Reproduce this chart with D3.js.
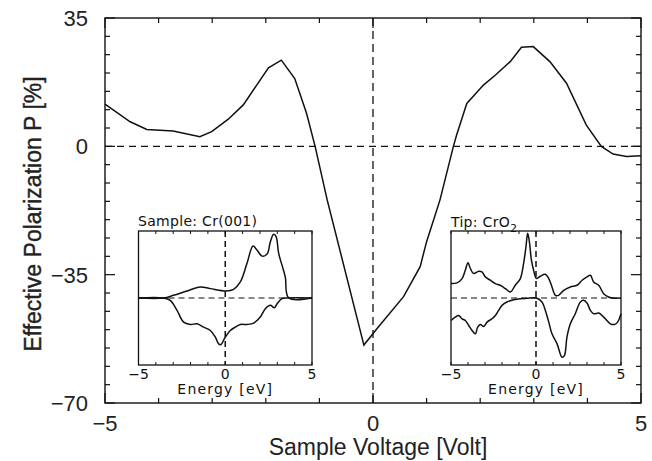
<!DOCTYPE html>
<html>
<head>
<meta charset="utf-8">
<script src="https://cdn.jsdelivr.net/npm/d3@7"></script>
<style>
  body { margin: 0; background: #fff; }
  svg { display: block; }
  .tick-label { font-family: "Liberation Sans", Arial, sans-serif; font-size: 22px; fill: #222; }
  .axis-title { font-family: "Liberation Sans", Arial, sans-serif; fill: #222; }
  .inset-text { font-family: "DejaVu Sans", sans-serif; font-size: 14px; fill: #111; }
</style>
</head>
<body>
<div id="chart"></div>
<script>
// main curve: sample voltage [V] vs effective polarization [%]
const mainV = [-5, -4.53, -4.22, -3.73, -3.23, -3.01, -2.7, -2.42, -2.17, -1.95, -1.71, -1.46, -1.24, -1.08, -0.855, -0.17,
               0.08, 0.57, 0.88, 1.0, 1.25, 1.5, 1.56, 1.75, 2.06, 2.28, 2.56, 2.77, 2.99, 3.3, 3.61, 3.98, 4.26, 4.48, 4.73, 5];
const mainP = [11.5, 6.7, 4.6, 4.2, 2.6, 4.0, 7.4, 11.3, 16.7, 21.4, 23.5, 18.5, 9, 0, -14.6, -54.2,
               -49.6, -41, -32.8, -26, -14.6, 0, 3.1, 11.7, 16.7, 19.4, 23.1, 27, 27.2, 23.1, 17.2, 5.8, 0, -2.1, -2.8, -2.6];

const yTickLabels = [35, 0, -35, -70];
const xTickLabels = [-5, 0, 5];

// inset 1: Sample Cr(001), spin up / spin down DOS (arb. units)
const crUpE = [-5, -3.56, -2.98, -2.21, -1.44, -0.86, 0.06, 0.48, 0.87, 1.25, 1.6, 1.83, 2.12, 2.41, 2.6, 2.79, 2.93, 3.08, 3.27, 3.46, 3.66, 5];
const crUpD = [0, 0, 0.04, 0.105, 0.165, 0.14, 0.105, 0.13, 0.24, 0.515, 0.775, 0.715, 0.625, 0.655, 0.84, 0.95, 0.915, 0.665, 0.49, 0.315, 0, 0];
const crDnE = [-5, -3.56, -3.17, -2.78, -2.4, -2.02, -1.63, -1.25, -0.86, -0.57, -0.38, -0.25, 0.0, 0.29, 0.58, 0.87, 1.25, 1.64, 2.02, 2.31, 2.6, 2.83, 2.99, 3.27, 3.56, 5];
const crDnD = [0, 0, -0.035, -0.185, -0.36, -0.395, -0.385, -0.435, -0.485, -0.585, -0.685, -0.695, -0.585, -0.485, -0.435, -0.395, -0.395, -0.375, -0.285, -0.16, -0.11, -0.145, -0.085, -0.01, 0, 0];

// inset 2: Tip CrO2
const tipUpE = [-5, -4.65, -4.35, -4.16, -4.0, -3.86, -3.67, -3.37, -3.18, -2.98, -2.69, -2.39, -2.1, -1.8, -1.51, -1.22, -0.92, -0.73, -0.59, -0.49, -0.39, -0.27, -0.14, 0.02, 0.25, 0.55, 0.75, 0.94, 1.14, 1.33, 1.63, 2.02, 2.41, 2.71, 3.0, 3.2, 3.39, 3.69, 3.98, 4.27, 4.47, 5];
const tipUpD = [0.215, 0.225, 0.29, 0.415, 0.525, 0.44, 0.365, 0.4, 0.39, 0.315, 0.265, 0.215, 0.19, 0.14, 0.09, 0.19, 0.29, 0.515, 0.765, 0.965, 0.84, 0.565, 0.415, 0.29, 0.325, 0.355, 0.29, 0.165, 0.04, 0.04, 0.115, 0.165, 0.19, 0.265, 0.315, 0.34, 0.24, 0.19, 0.065, 0.015, 0, 0];
const tipDnE = [-5, -4.75, -4.55, -4.35, -4.16, -3.96, -3.76, -3.57, -3.43, -3.27, -3.08, -2.88, -2.59, -2.39, -2.2, -2.0, -1.71, -1.31, -0.92, -0.53, 0.02, 0.35, 0.55, 0.75, 0.94, 1.24, 1.53, 1.67, 1.82, 2.02, 2.31, 2.61, 2.8, 3.0, 3.2, 3.39, 3.69, 3.88, 4.08, 4.37, 4.61, 4.8, 5];
const tipDnD = [-0.335, -0.285, -0.26, -0.31, -0.335, -0.41, -0.485, -0.535, -0.435, -0.395, -0.425, -0.36, -0.31, -0.26, -0.185, -0.11, -0.06, -0.025, -0.01, -0.005, 0, -0.06, -0.185, -0.36, -0.535, -0.685, -0.885, -0.86, -0.585, -0.385, -0.235, -0.06, -0.035, -0.075, -0.185, -0.235, -0.225, -0.26, -0.31, -0.385, -0.395, -0.36, -0.235];

const width = 652;
const height = 461;
const margin = {top: 18, left: 105, right: 11, bottom: 58};

const svg = d3.select("#chart")
    .append("svg")
    .attr("width", width)
    .attr("height", height);

const x = d3.scaleLinear().domain([-5, 5]).range([margin.left, width - margin.right]);
const y = d3.scaleLinear().domain([-70, 35]).range([height - margin.bottom, margin.top]);

// frame
svg.append("rect")
    .attr("x", x(-5)).attr("y", y(35))
    .attr("width", x(5) - x(-5)).attr("height", y(-70) - y(35))
    .attr("fill", "none").attr("stroke", "#111").attr("stroke-width", 1.4);

// inward ticks on all four sides
const xt = d3.range(-5, 5.01, 1);
const yt = d3.range(-70, 35.01, 5);
function tickLen(v, majors) { return majors.includes(v) ? 10 : 5; }

xt.forEach(function(v) {
    const L = tickLen(v, xTickLabels);
    svg.append("line").attr("x1", x(v)).attr("x2", x(v)).attr("y1", y(-70)).attr("y2", y(-70) - L)
        .attr("stroke", "#111").attr("stroke-width", 1.2);
    svg.append("line").attr("x1", x(v)).attr("x2", x(v)).attr("y1", y(35)).attr("y2", y(35) + L)
        .attr("stroke", "#111").attr("stroke-width", 1.2);
});
yt.forEach(function(v) {
    const L = tickLen(v, yTickLabels);
    svg.append("line").attr("x1", x(-5)).attr("x2", x(-5) + L).attr("y1", y(v)).attr("y2", y(v))
        .attr("stroke", "#111").attr("stroke-width", 1.2);
    svg.append("line").attr("x1", x(5)).attr("x2", x(5) - L).attr("y1", y(v)).attr("y2", y(v))
        .attr("stroke", "#111").attr("stroke-width", 1.2);
});

// tick labels
yTickLabels.forEach(function(v) {
    svg.append("text").attr("class", "tick-label")
        .attr("x", x(-5) - 17).attr("y", y(v)).attr("dy", "0.36em")
        .attr("text-anchor", "end")
        .text(v < 0 ? "\u2212" + Math.abs(v) : v);
});
xTickLabels.forEach(function(v) {
    svg.append("text").attr("class", "tick-label")
        .attr("x", x(v)).attr("y", y(-70) + 28)
        .attr("text-anchor", "middle")
        .text(v < 0 ? "\u2212" + Math.abs(v) : v);
});

// axis titles
svg.append("text").attr("class", "axis-title")
    .attr("x", 378).attr("y", 455)
    .attr("text-anchor", "middle").attr("font-size", 23)
    .text("Sample Voltage [Volt]");
svg.append("text").attr("class", "axis-title")
    .attr("transform", "translate(41,214) rotate(-90)")
    .attr("text-anchor", "middle").attr("font-size", 23)
    .attr("stroke", "#222").attr("stroke-width", 0.4)
    .text("Effective Polarization P [%]");

// dashed zero lines
svg.append("line").attr("x1", x(-5)).attr("x2", x(5)).attr("y1", y(0)).attr("y2", y(0))
    .attr("stroke", "#111").attr("stroke-width", 1.3).attr("stroke-dasharray", "7,5");
svg.append("line").attr("x1", x(0)).attr("x2", x(0)).attr("y1", y(35)).attr("y2", y(-70))
    .attr("stroke", "#111").attr("stroke-width", 1.3).attr("stroke-dasharray", "8,5");

// main curve
const mainData = mainV.map(function(v, i) { return [v, mainP[i]]; });
svg.append("path")
    .datum(mainData)
    .attr("fill", "none").attr("stroke", "#111").attr("stroke-width", 1.5)
    .attr("d", d3.line().x(function(d) { return x(d[0]); }).y(function(d) { return y(d[1]); }));

/*
 INSETS
*/
function drawInset(x0, x1, y0, y1, upE, upD, dnE, dnD) {
    const ix = d3.scaleLinear().domain([-5, 5]).range([x0, x1]);
    const iy = d3.scaleLinear().domain([-1, 1]).range([y1, y0]);
    const g = svg.append("g");

    g.append("rect").attr("x", x0).attr("y", y0).attr("width", x1 - x0).attr("height", y1 - y0)
        .attr("fill", "#fff").attr("stroke", "#111").attr("stroke-width", 1.3);

    d3.range(-5, 5.01, 1).forEach(function(v) {
        g.append("line").attr("x1", ix(v)).attr("x2", ix(v)).attr("y1", y1).attr("y2", y1 - 3)
            .attr("stroke", "#111").attr("stroke-width", 1);
        g.append("line").attr("x1", ix(v)).attr("x2", ix(v)).attr("y1", y0).attr("y2", y0 + 3)
            .attr("stroke", "#111").attr("stroke-width", 1);
    });

    g.append("line").attr("x1", x0).attr("x2", x1).attr("y1", iy(0)).attr("y2", iy(0))
        .attr("stroke", "#111").attr("stroke-width", 1.2).attr("stroke-dasharray", "6,4");
    g.append("line").attr("x1", ix(0)).attr("x2", ix(0)).attr("y1", y0).attr("y2", y1)
        .attr("stroke", "#111").attr("stroke-width", 1.5).attr("stroke-dasharray", "6,4");

    const line = d3.line().curve(d3.curveCatmullRom.alpha(0.5))
        .x(function(d) { return ix(d[0]); }).y(function(d) { return iy(d[1]); });
    [[upE, upD], [dnE, dnD]].forEach(function(s) {
        g.append("path")
            .datum(s[0].map(function(e, i) { return [e, s[1][i]]; }))
            .attr("fill", "none").attr("stroke", "#111").attr("stroke-width", 1.5)
            .attr("d", line);
    });

    xTickLabels.forEach(function(v) {
        g.append("text").attr("class", "inset-text")
            .attr("x", ix(v)).attr("y", y1 + 14)
            .attr("text-anchor", "middle")
            .text(v < 0 ? "\u2212" + Math.abs(v) : v);
    });
    g.append("text").attr("class", "inset-text")
        .attr("x", ix(0)).attr("y", y1 + 29)
        .attr("text-anchor", "middle").attr("letter-spacing", 1.2)
        .text("Energy [eV]");
    return g;
}

const inset1 = drawInset(138.5, 312, 231, 365, crUpE, crUpD, crDnE, crDnD);
inset1.append("text").attr("class", "inset-text")
    .attr("x", 138).attr("y", 226).attr("letter-spacing", 0.3)
    .text("Sample: Cr(001)");

const inset2 = drawInset(451, 621, 231, 365, tipUpE, tipUpD, tipDnE, tipDnD);
const t2 = inset2.append("text").attr("class", "inset-text")
    .attr("x", 451).attr("y", 227).attr("letter-spacing", 0.3);
t2.append("tspan").text("Tip: CrO");
t2.append("tspan").attr("dy", 5).attr("font-size", 11).text("2");
</script>
</body>
</html>
